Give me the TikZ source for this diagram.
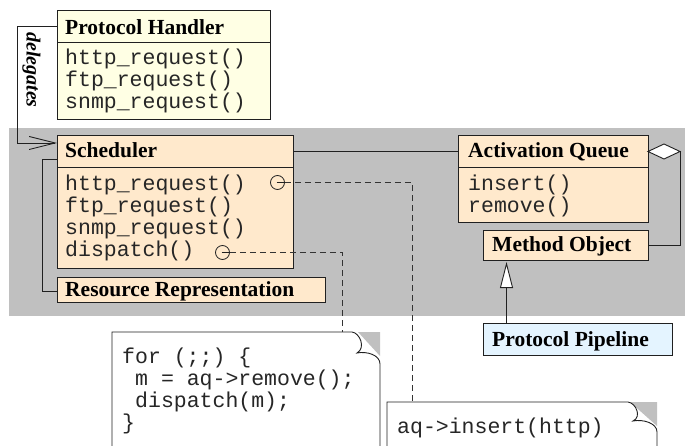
\documentclass[tikz,border=0pt]{standalone}
\usepackage{fontspec}
\setmainfont{Liberation Serif}
\setmonofont{Liberation Mono}
\usetikzlibrary{arrows.meta}
\definecolor{bggray}{HTML}{C0C0C0}
\definecolor{peach}{HTML}{FFE9CC}
\definecolor{lyellow}{HTML}{FFFFE4}
\definecolor{lblue}{HTML}{E4F4FF}
\definecolor{edgec}{HTML}{202020}
\newcommand{\hdrf}{\fontsize{21.5}{24}\selectfont\bfseries}
\newcommand{\mthf}{\fontsize{21.5}{24}\selectfont\ttfamily}
\newcommand{\dlgf}{\fontsize{20}{22}\selectfont\bfseries\itshape}
\begin{document}
\begin{tikzpicture}[x=1pt,y=-1pt,
 box/.style={draw=edgec, line width=0.9pt, anchor=north west, inner sep=0pt, outer sep=0pt},
 hdr/.style={font=\hdrf, anchor=base west, inner sep=0pt},
 mth/.style={font=\mthf, anchor=base west, inner sep=0pt, text=black!85},
 conn/.style={draw=edgec, line width=0.9pt},
 dashc/.style={draw=black!80, line width=1pt, dash pattern=on 6pt off 4pt},
 sepline/.style={draw=edgec, line width=0.9pt},
 port/.style={circle, draw=edgec, line width=0.8pt, minimum size=14pt, inner sep=0pt, fill=peach},
 notec/.style={draw=edgec, line width=0.9pt, fill=white}
]
\useasboundingbox (0,0) rectangle (685,446);
\clip (0,0) rectangle (685,446);

% background region
\fill[bggray] (9,128) rectangle (685,316);

% Protocol Handler
\node[box, fill=lyellow, minimum width=213pt, minimum height=109pt] (ph) at (57,10) {};
\draw[sepline] ([yshift=-32pt]ph.north west) -- ([yshift=-32pt]ph.north east);
\node[hdr] (phT) at (65,34.5) {Protocol Handler};
\node[mth] (ph1) at (65,64.5) {http\_request()};
\node[mth] (ph2) at (65,86.5) {ftp\_request()};
\node[mth] (ph3) at (65,108.5) {snmp\_request()};

% Scheduler
\node[box, fill=peach, minimum width=236pt, minimum height=133pt] (sch) at (57,135) {};
\draw[sepline] ([yshift=-32pt]sch.north west) -- ([yshift=-32pt]sch.north east);
\node[hdr] (schT) at (65,157.5) {Scheduler};
\node[mth] (s1) at (65,190.5) {http\_request()};
\node[mth] (s2) at (65,212.5) {ftp\_request()};
\node[mth] (s3) at (65,234.5) {snmp\_request()};
\node[mth] (s4) at (65,256.5) {dispatch()};
\node[port] (c1) at (277.5,182.5) {};
\node[port] (c2) at (222.5,252.5) {};
\draw[conn, line width=0.8pt] ([xshift=-1pt]c1.center) -- (c1.east);
\draw[conn, line width=0.8pt] ([xshift=-1pt]c2.center) -- (c2.east);

% Resource Representation
\node[box, fill=peach, minimum width=268pt, minimum height=25pt] (res) at (57,277) {};
\node[hdr] (resT) at (65,296.5) {Resource Representation};

% Activation Queue
\node[box, fill=peach, minimum width=190pt, minimum height=87pt] (aq) at (458,135) {};
\draw[sepline] ([yshift=-32pt]aq.north west) -- ([yshift=-32pt]aq.north east);
\node[hdr] (aqT) at (468,157.5) {Activation Queue};
\node[mth] (a1) at (468,190.5) {insert()};
\node[mth] (a2) at (468,212.5) {remove()};

% Method Object
\node[box, fill=peach, minimum width=165pt, minimum height=30pt] (mo) at (483,230) {};
\node[hdr] (moT) at (492,251.5) {Method Object};

% Protocol Pipeline
\node[box, fill=lblue, minimum width=189pt, minimum height=32pt] (pp) at (483,323) {};
\node[hdr] (ppT) at (492,346.5) {Protocol Pipeline};

% delegates
\draw[conn, -{Straight Barb[length=26pt,width=13pt]}] ([yshift=-16pt]ph.north west) -- ++(-40,0) |- ([yshift=-8pt]sch.north west);
\node[rotate=-90, anchor=base west, inner sep=0pt, font=\dlgf] (dlg) at (26.5,32) {delegates};

% Scheduler -- Activation Queue
\draw[conn] ([yshift=-16pt]sch.north east) -- ([yshift=-16pt]aq.north west);

% Scheduler -- Resource Representation
\draw[conn] ([yshift=-24pt]sch.north west) -- ++(-15,0) |- ([yshift=-14.5pt]res.north west);

% aggregation diamond
\draw[conn, fill=white] ([yshift=-16.5pt]aq.north east) coordinate (dl) -- ++(16,-7.5) -- ++(16,7.5) coordinate (dr) -- ++(-16,7.5) -- cycle;
\draw[conn] (dr) |- (mo.east);

% inheritance
\draw[conn, shorten >=2pt, -{Triangle[open, fill=white, length=26pt, width=13pt]}] ([xshift=23.5pt]pp.north west) -- ([xshift=23.5pt]mo.south west);

% notes
\fill[bggray] (358,332) -- (380,332) -- (380,356) -- cycle;
\draw[notec] (112,452) -- (112,332) -- (352,332) .. controls (360,333) and (366,348) .. (357,353) .. controls (367,351) and (380,355) .. (380,364) -- (380,452);
\coordinate (n1) at (342,332);
\node[mth] (f1) at (122,363) {for (;;) \{};
\node[mth] (f2) at (135,385) {m = aq->remove();};
\node[mth] (f3) at (135,407) {dispatch(m);};
\node[mth] (f4) at (122,429) {\}};

\fill[bggray] (630,402) -- (657,402) -- (657,426) -- cycle;
\draw[notec] (387,452) -- (387,402) -- (628,402) .. controls (636,403) and (642,417) .. (633,421) .. controls (643,419) and (657,423) .. (657,432) -- (657,452);
\coordinate (n2) at (412,402);
\node[mth] (i1) at (397,433) {aq->insert(http)};

% dashed links
\draw[dashc] (c1.east) -| (n2);
\draw[dashc] (c2.east) -| (n1);
\end{tikzpicture}
\end{document}
